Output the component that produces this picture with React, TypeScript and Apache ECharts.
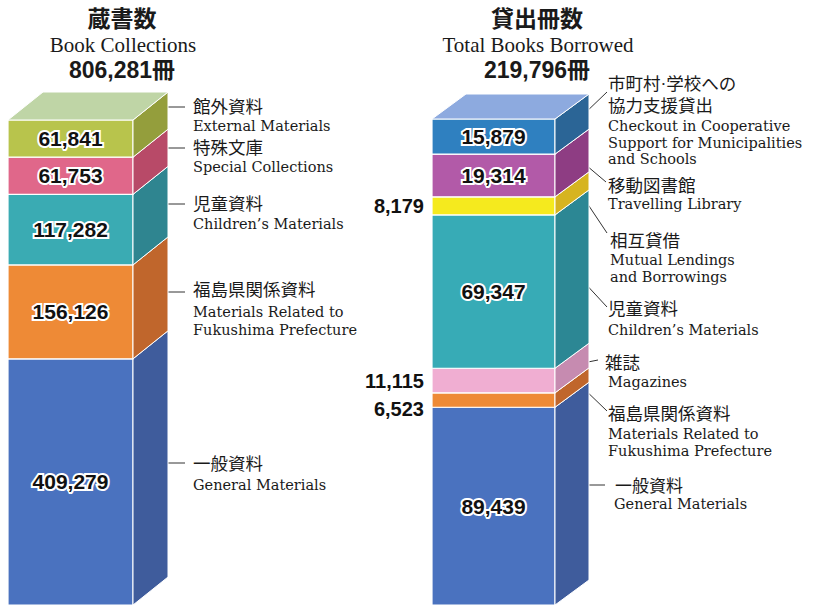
import React, { useEffect, useRef } from "react";
import * as echarts from "echarts";

// ---- Data (bottom of stack first) ----
const collectionTitleJa = "蔵書数";
const collectionTitleEn = "Book Collections";
const collectionCategories = ["一般資料", "福島県関係資料", "児童資料", "特殊文庫", "館外資料"];
const collectionValues = [409279, 156126, 117282, 61753, 61841];
const collectionTotal = 806281;

const borrowedTitleJa = "貸出冊数";
const borrowedTitleEn = "Total Books Borrowed";
const borrowedCategories = ["一般資料", "福島県関係資料", "雑誌", "児童資料", "相互貸借", "移動図書館", "市町村・学校への協力支援貸出"];
const borrowedValues = [89439, 6523, 11115, 69347, 8179, 19314, 15879];
const borrowedTotal = 219796;

// ---- Styles ----
const collectionFront = ["#4a72bf", "#ee8a36", "#3aabb3", "#e0678a", "#b8c44c"];
const collectionSide = ["#3f5c9c", "#c0662c", "#2f8590", "#b84a68", "#949e3c"];
const collectionTop = "#bfd5a6";
const borrowedFront = ["#4a72bf", "#ee8a36", "#f0aed2", "#37abb6", "#f5ea1e", "#b25aa8", "#2f80c0"];
const borrowedSide = ["#3f5c9c", "#c0662c", "#c68bb0", "#2c8794", "#d6b420", "#8e3d83", "#2b6596"];
const borrowedTop = "#8daadf";

const fmt = (v: number) => v.toLocaleString("en-US");

function stackRows(values: number[]) {
  let acc = 0;
  return values.map((v, i) => {
    const row = [0, acc, acc + v, v, i];
    acc += v;
    return row;
  });
}

const NUM_FONT = "'Liberation Sans', Arial, sans-serif";

function makeRender(values: number[], front: string[], side: string[], topColor: string, dx: number, dy: number) {
  const rows = stackRows(values);
  return (params: any, api: any) => {
    const i = params.dataIndex;
    const start = api.value(1);
    const end = api.value(2);
    const pTop = api.coord([0, end]);
    const pBot = api.coord([0, start]);
    const w = api.size([1, 0])[0];
    const x0 = pTop[0] - w / 2;
    const x1 = x0 + w;
    const yT = pTop[1];
    const yB = pBot[1];
    const children: any[] = [
      {
        type: "polygon",
        shape: { points: [[x0, yT], [x1, yT], [x1, yB], [x0, yB]] },
        style: { fill: front[i], stroke: "#ffffff", lineWidth: 1.2 },
      },
      {
        type: "polygon",
        shape: { points: [[x1, yT], [x1 + dx, yT + dy], [x1 + dx, yB + dy], [x1, yB]] },
        style: { fill: side[i], stroke: "#ffffff", lineWidth: 1 },
      },
    ];
    if (i === values.length - 1) {
      children.push({
        type: "polygon",
        shape: { points: [[x0, yT], [x1, yT], [x1 + dx, yT + dy], [x0 + dx, yT + dy]] },
        style: { fill: topColor, stroke: "#ffffff", lineWidth: 1 },
      });
    }
    const h = yB - yT;
    const isOutside = (hh: number) => hh < 30;
    if (!isOutside(h)) {
      children.push({
        type: "text",
        x: (x0 + x1) / 2,
        y: (yT + yB) / 2,
        style: {
          text: fmt(values[i]),
          fill: "#111111",
          stroke: "#ffffff",
          lineWidth: 4,
          fontSize: 21,
          fontWeight: "bold",
          fontFamily: NUM_FONT,
          align: "center",
          verticalAlign: "middle",
        },
      });
    } else {
      let cy = (yT + yB) / 2;
      if (i + 1 < rows.length) {
        const aT = api.coord([0, rows[i + 1][2]])[1];
        const aB = api.coord([0, rows[i + 1][1]])[1];
        if (isOutside(aB - aT)) cy = Math.max(cy, (aT + aB) / 2 + 28);
      }
      children.push({
        type: "text",
        x: x0 - 8,
        y: cy,
        style: {
          text: fmt(values[i]),
          fill: "#111111",
          fontSize: 20,
          fontWeight: "bold",
          fontFamily: NUM_FONT,
          align: "right",
          verticalAlign: "middle",
        },
      });
    }
    return { type: "group", children };
  };
}

const JP_FONT = "'Liberation Serif', 'Noto Sans CJK JP', serif";
const EN_FONT = "'DejaVu Serif', 'Liberation Serif', serif";
const TITLE_EN_FONT = "'Liberation Serif', 'DejaVu Serif', serif";
const EN = 14.5;
const JP = 17.5;

function t(x: number, y: number, text: string, size: number, family: string, weight = "normal", align = "left"): any {
  return {
    type: "text",
    x,
    y,
    style: {
      text,
      fill: "#1a1a1a",
      fontSize: size,
      fontFamily: family,
      fontWeight: weight,
      align,
      verticalAlign: "middle",
      lineHeight: size,
    },
  };
}
function ln(x1: number, y1: number, x2: number, y2: number): any {
  return { type: "line", shape: { x1, y1, x2, y2 }, style: { stroke: "#333333", lineWidth: 1 } };
}

export default function App() {
  const ref = useRef<HTMLDivElement>(null);
  useEffect(() => {
    document.body.style.margin = "0";
    const chart = echarts.init(ref.current!, null, { renderer: "svg" });
    const lx = 193;
    const rx = 608;
    const graphic: any[] = [
      // titles
      t(122, 17, collectionTitleJa, 23, "'Noto Sans CJK JP', sans-serif", "bold", "center"),
      t(123, 45, collectionTitleEn, 21, TITLE_EN_FONT, "normal", "center"),
      t(122, 70, fmt(collectionTotal) + "冊", 23, "'Liberation Sans', 'Noto Sans CJK JP', sans-serif", "bold", "center"),
      t(537, 17, borrowedTitleJa, 23, "'Noto Sans CJK JP', sans-serif", "bold", "center"),
      t(538, 45, borrowedTitleEn, 21, TITLE_EN_FONT, "normal", "center"),
      t(537, 70, fmt(borrowedTotal) + "冊", 23, "'Liberation Sans', 'Noto Sans CJK JP', sans-serif", "bold", "center"),
      // left annotations
      ln(163, 107, 185, 107),
      t(lx, 107, collectionCategories[4], JP, JP_FONT),
      t(lx, 126, "External Materials", EN, EN_FONT),
      ln(163, 148, 185, 148),
      t(lx, 148, collectionCategories[3], JP, JP_FONT),
      t(lx, 167, "Special Collections", EN, EN_FONT),
      ln(163, 204, 185, 204),
      t(lx, 204, collectionCategories[2], JP, JP_FONT),
      t(lx, 224, "Children’s Materials", EN, EN_FONT),
      ln(163, 292, 185, 292),
      t(lx, 290, collectionCategories[1], JP, JP_FONT),
      t(lx, 312, "Materials Related to", EN, EN_FONT),
      t(lx, 330, "Fukushima Prefecture", EN, EN_FONT),
      ln(163, 463, 185, 463),
      t(lx, 464, collectionCategories[0], JP, JP_FONT),
      t(lx, 485, "General Materials", EN, EN_FONT),
      // right annotations
      ln(583, 115, 607, 92),
      t(rx, 84, "市町村·学校への", JP, JP_FONT),
      t(rx, 106, "協力支援貸出", JP, JP_FONT),
      t(rx, 126, "Checkout in Cooperative", EN, EN_FONT),
      t(rx, 143, "Support for Municipalities", EN, EN_FONT),
      t(rx, 159, "and Schools", EN, EN_FONT),
      ln(580, 160, 606, 182),
      t(rx, 186, borrowedCategories[5], JP, JP_FONT),
      t(rx, 204, "Travelling Library", EN, EN_FONT),
      ln(583, 197, 607, 233),
      t(610, 241, borrowedCategories[4], JP, JP_FONT),
      t(610, 260, "Mutual Lendings", EN, EN_FONT),
      t(610, 277, "and Borrowings", EN, EN_FONT),
      ln(582, 280, 607, 307),
      t(rx, 309, borrowedCategories[3], JP, JP_FONT),
      t(rx, 330, "Children’s Materials", EN, EN_FONT),
      ln(573, 365, 598, 360),
      t(605, 363, borrowedCategories[2], JP, JP_FONT),
      t(rx, 382, "Magazines", EN, EN_FONT),
      ln(580, 385, 607, 411),
      t(rx, 414, borrowedCategories[1], JP, JP_FONT),
      t(rx, 434, "Materials Related to", EN, EN_FONT),
      t(rx, 451, "Fukushima Prefecture", EN, EN_FONT),
      ln(583, 485, 605, 485),
      t(615, 486, borrowedCategories[0], 17, JP_FONT),
      t(614, 504, "General Materials", EN, EN_FONT),
    ];

    chart.setOption({
      animation: false,
      backgroundColor: "#ffffff",
      grid: [
        { left: 8, top: 120, width: 125, height: 485 },
        { left: 432, top: 119, width: 123, height: 486 },
      ],
      xAxis: [
        { type: "category", gridIndex: 0, data: [collectionTitleJa], show: false },
        { type: "category", gridIndex: 1, data: [borrowedTitleJa], show: false },
      ],
      yAxis: [
        { type: "value", gridIndex: 0, min: 0, max: collectionTotal, show: false, splitLine: { show: false } },
        { type: "value", gridIndex: 1, min: 0, max: borrowedTotal, show: false, splitLine: { show: false } },
      ],
      series: [
        {
          type: "custom",
          xAxisIndex: 0,
          yAxisIndex: 0,
          data: stackRows(collectionValues),
          encode: { x: 0, y: [1, 2] },
          renderItem: makeRender(collectionValues, collectionFront, collectionSide, collectionTop, 35, -28),
        },
        {
          type: "custom",
          xAxisIndex: 1,
          yAxisIndex: 1,
          data: stackRows(borrowedValues),
          encode: { x: 0, y: [1, 2] },
          renderItem: makeRender(borrowedValues, borrowedFront, borrowedSide, borrowedTop, 34, -25),
        },
      ],
      graphic,
    });
    return () => chart.dispose();
  }, []);
  return <div ref={ref} style={{ position: "absolute", left: 0, top: 0, width: 814, height: 607 }} />;
}
